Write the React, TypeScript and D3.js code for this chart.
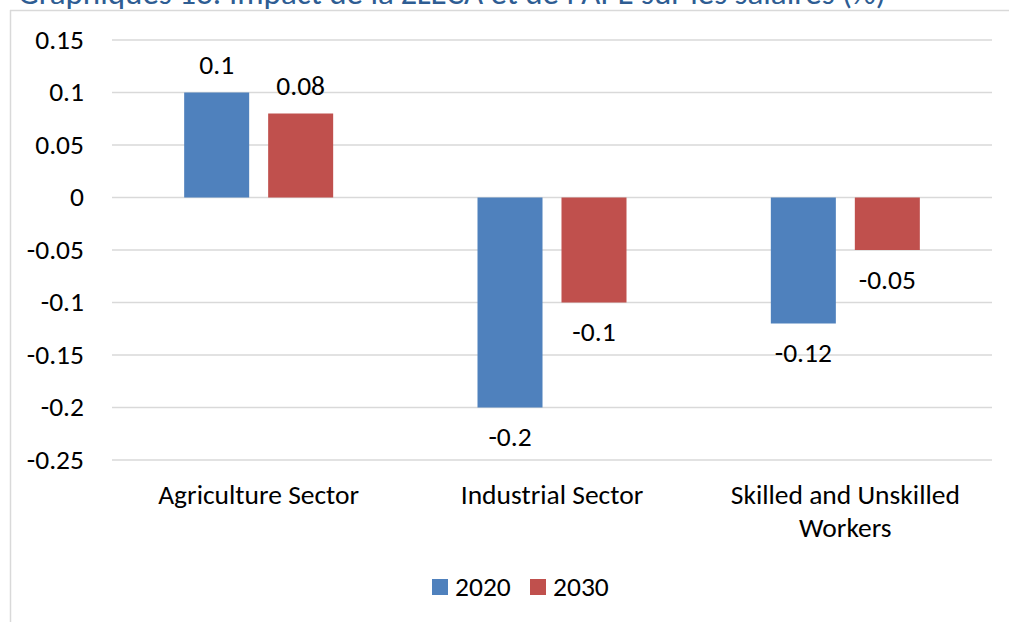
import React from "react";
import * as d3 from "d3";

const categories = ["Agriculture Sector", "Industrial Sector", "Skilled and Unskilled Workers"];
const categoryLines = [["Agriculture Sector"], ["Industrial Sector"], ["Skilled and Unskilled", "Workers"]];
const seriesNames = ["2020", "2030"];
const values2020 = [0.1, -0.2, -0.12];
const values2030 = [0.08, -0.1, -0.05];
const yTicks = [0.15, 0.1, 0.05, 0, -0.05, -0.1, -0.15, -0.2, -0.25];
const colors = ["#4F81BD", "#C0504D"];
const title = "Graphiques 13: Impact de la ZLECA et de l'APE sur les salaires (%)";

const W = 1009;
const H = 622;
const FONT = "Carlito, Calibri, 'Open Sans', sans-serif";
const FS = 27.5;

export default function App() {
  const y = d3.scaleLinear().domain([-0.25, 0.15]).range([460, 40]);
  const x0 = d3.scaleBand<string>().domain(categories).range([112, 992]).padding(0);
  const groupW = 149;
  const x1 = d3.scaleBand<string>().domain(seriesNames).range([0, groupW]).paddingInner(0.226).paddingOuter(0);
  const offset = (x0.bandwidth() - groupW) / 2;
  const series = [values2020, values2030];
  const fmt = (v: number) => String(v);

  return (
    <svg width={W} height={H} style={{ position: "absolute", left: 0, top: 0, background: "#fff" }} fontFamily={FONT}>
      <text x={18} y={4} fontSize={33} fill="#2E5D93">{title}</text>
      <line x1={10.5} y1={10} x2={10.5} y2={H} stroke="#D9D9D9" strokeWidth={1.5} />
      <line x1={10} y1={10.5} x2={W} y2={10.5} stroke="#D9D9D9" strokeWidth={1.5} />
      {yTicks.map((t) => (
        <g key={t}>
          <line x1={112} x2={992} y1={y(t)} y2={y(t)} stroke="#D9D9D9" strokeWidth={1.5} />
          <text x={84} y={y(t) + 8.5} textAnchor="end" fontSize={FS} fill="#000">{fmt(t)}</text>
        </g>
      ))}
      {categories.map((c, ci) => (
        <g key={c}>
          {series.map((vals, si) => {
            const v = vals[ci];
            const bx = (x0(c) as number) + offset + (x1(seriesNames[si]) as number);
            const bw = x1.bandwidth();
            const top = Math.min(y(v), y(0));
            const h = Math.abs(y(v) - y(0));
            const ly = v >= 0 ? y(v) - 18.5 : y(v) + 38.5;
            return (
              <g key={si}>
                <rect x={bx} y={top} width={bw} height={h} fill={colors[si]} />
                <text x={bx + bw / 2} y={ly} textAnchor="middle" fontSize={FS} fill="#000">{fmt(v)}</text>
              </g>
            );
          })}
          {categoryLines[ci].map((ln, li) => (
            <text key={li} x={(x0(c) as number) + x0.bandwidth() / 2} y={504 + li * 33} textAnchor="middle" fontSize={FS} fill="#000">{ln}</text>
          ))}
        </g>
      ))}
      {seriesNames.map((s, i) => (
        <g key={s}>
          <rect x={432 + i * 98} y={579} width={16} height={16} fill={colors[i]} />
          <text x={455 + i * 98} y={596} fontSize={FS} fill="#000">{s}</text>
        </g>
      ))}
    </svg>
  );
}
